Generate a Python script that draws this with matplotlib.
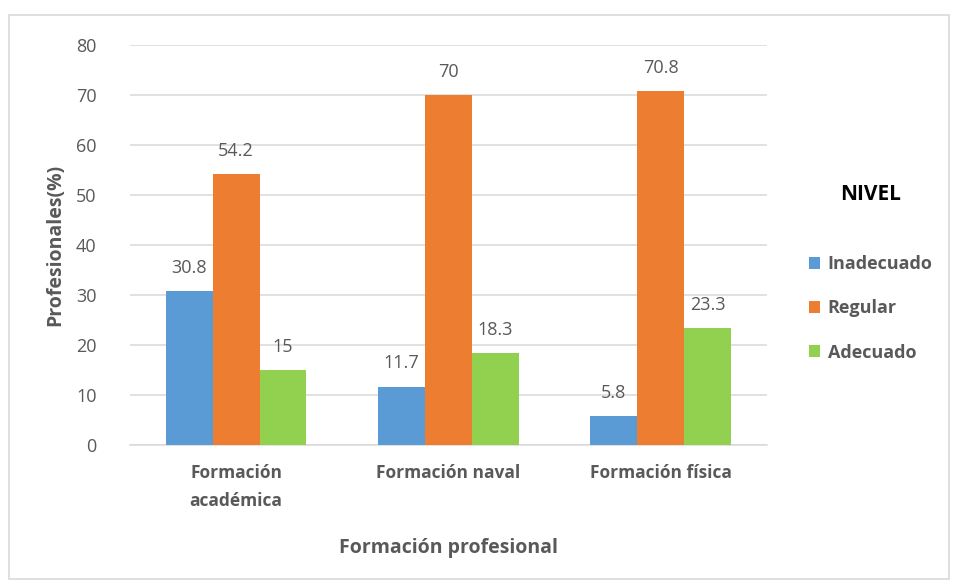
import numpy as np
import matplotlib.pyplot as plt
from matplotlib.patches import Rectangle

# datos del grafico
categorias = ["Formación\nacadémica", "Formación naval", "Formación física"]
niveles = ["Inadecuado", "Regular", "Adecuado"]
inadecuado = [30.8, 11.7, 5.8]
regular = [54.2, 70, 70.8]
adecuado = [15, 18.3, 23.3]
etiquetas = [["30.8", "11.7", "5.8"], ["54.2", "70", "70.8"], ["15", "18.3", "23.3"]]

colores = ["#5B9BD5", "#ED7D31", "#92D050"]
GRIS = "#595959"

plt.rcParams['font.family'] = ['Open Sans', 'DejaVu Sans']

fig = plt.figure(figsize=(9.55, 5.84), dpi=100)
ax = fig.add_axes([0.136, 0.238, 0.667, 0.685])

# marco exterior del grafico
fig.patches.append(Rectangle((0.009, 0.008), 0.985, 0.967, transform=fig.transFigure,
                             fill=False, edgecolor="#D9D9D9", linewidth=1.2))

x = np.arange(len(categorias))
ancho = 0.221
series = [inadecuado, regular, adecuado]
for i, (vals, col, nombre) in enumerate(zip(series, colores, niveles)):
    pos = x + (i - 1) * ancho
    barras = ax.bar(pos, vals, ancho, color=col, label=nombre, zorder=3)
    for b, txt in zip(barras, etiquetas[i]):
        ax.text(b.get_x() + b.get_width() / 2, b.get_height() + 4.6, txt,
                ha="center", va="center", fontsize=13, color=GRIS)

ax.set_xlim(-0.5, 2.5)
ax.set_ylim(0, 80)
ax.set_yticks(range(0, 81, 10))
ax.yaxis.grid(True, color="#D9D9D9", linewidth=1.1, zorder=0)
ax.set_xticks(x)
ax.set_xticklabels(categorias, fontsize=12.5, fontweight="bold", color=GRIS, linespacing=1.7)
ax.tick_params(axis="y", labelsize=13, labelcolor=GRIS, length=0, pad=24)
ax.tick_params(axis="x", length=0, pad=14)
for s in ["top", "right", "left"]:
    ax.spines[s].set_visible(False)
ax.spines["bottom"].set_color("#D9D9D9")
ax.spines["bottom"].set_linewidth(1.1)

ax.set_ylabel("Profesionales(%)", fontsize=14, fontweight="bold", color=GRIS, labelpad=8)
ax.set_xlabel("Formación profesional", fontsize=14, fontweight="bold", color=GRIS, labelpad=20)

leg = ax.legend(title="NIVEL", loc="center left", bbox_to_anchor=(1.04, 0.43),
                frameon=False, fontsize=13, handlelength=0.65, handleheight=0.65,
                handletextpad=0.4, labelspacing=1.45)
leg.get_title().set_fontweight("bold")
leg.get_title().set_fontsize(15)
leg.get_title().set_color("black")
leg._legend_box.sep = 36
for t in leg.get_texts():
    t.set_color(GRIS)
    t.set_fontweight("bold")

fig.savefig("out.png", dpi=100)
